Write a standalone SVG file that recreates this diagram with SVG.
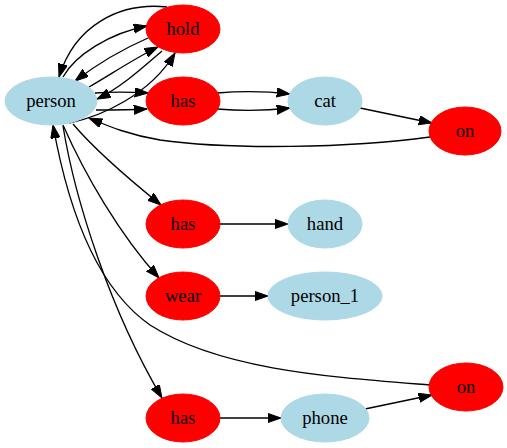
<svg xmlns="http://www.w3.org/2000/svg" width="507" height="448" viewBox="0 0 507 448">
  <style>
    .obj { fill: #add8e6; stroke: #add8e6; }
    .rel { fill: #ff0000; stroke: #ff0000; }
    .lbl { font-family: "Liberation Serif", "Times New Roman", serif; font-size: 18.67px; text-anchor: middle; fill: #000000; }
    .edge { fill: none; stroke: #000000; stroke-width: 1.33; marker-end: url(#head); }
  </style>
  <defs>
    <marker id="head" markerUnits="userSpaceOnUse" markerWidth="14" markerHeight="10" refX="13.3" refY="4.67" orient="auto">
      <path d="M0,0 L13.3,4.67 L0,9.33 Z" fill="#000000" stroke="#000000" stroke-width="1"/>
    </marker>
  </defs>
  <rect width="507" height="448" fill="#ffffff"/>

  <g id="edges">
    <!-- person <-> hold -->
    <path class="edge" d="M167,7 C120,2 75,25 59,77"/>
    <path class="edge" d="M63,77 C75,55 110,33 147,26"/>
    <path class="edge" d="M148,38 C125,48 100,62 75,81"/>
    <path class="edge" d="M89,87 C110,75 135,58 158,47"/>
    <path class="edge" d="M162,51 C140,70 120,88 97,99"/>
    <path class="edge" d="M69,123 C100,117 150,95 175,53"/>
    <!-- person -> has -->
    <path class="edge" d="M95,93 C110,92 130,92 148,93"/>
    <path class="edge" d="M96,110 C110,110 130,110 147,109"/>
    <!-- has -> cat -->
    <path class="edge" d="M217,93 C240,91 265,91 290,94"/>
    <path class="edge" d="M217,109 C240,111 265,111 290,108"/>
    <!-- cat -> on -->
    <path class="edge" d="M360,108 L432,123"/>
    <!-- on -> person -->
    <path class="edge" d="M430,137 C350,148 230,150 160,140 C130,135 110,127 89,118"/>
    <!-- person -> has / wear / has -->
    <path class="edge" d="M73,124 C95,150 130,180 161,205"/>
    <path class="edge" d="M63,125 C85,175 120,235 159,278"/>
    <path class="edge" d="M63,126 C75,200 110,310 162,398"/>
    <!-- on -> person (lower) -->
    <path class="edge" d="M430,385 C330,377 220,370 150,325 C100,290 70,220 53,125"/>
    <!-- relation -> object -->
    <path class="edge" d="M219,224 L288,224"/>
    <path class="edge" d="M219,296 L268,296"/>
    <path class="edge" d="M219,418 L281,418"/>
    <path class="edge" d="M365,409 L432,395"/>
  </g>

  <g id="person"><ellipse class="obj" cx="51" cy="101" rx="46" ry="24"/><text class="lbl" x="51" y="107">person</text></g>
  <g id="hold"><ellipse class="rel" cx="183" cy="29" rx="37" ry="24"/><text class="lbl" x="183" y="35">hold</text></g>
  <g id="has_cat"><ellipse class="rel" cx="183" cy="101" rx="37" ry="24"/><text class="lbl" x="183" y="107">has</text></g>
  <g id="cat"><ellipse class="obj" cx="325" cy="101" rx="37" ry="24"/><text class="lbl" x="325" y="107">cat</text></g>
  <g id="on_cat"><ellipse class="rel" cx="465" cy="131" rx="36" ry="24"/><text class="lbl" x="465" y="137">on</text></g>
  <g id="has_hand"><ellipse class="rel" cx="183" cy="224" rx="37" ry="24"/><text class="lbl" x="183" y="230">has</text></g>
  <g id="hand"><ellipse class="obj" cx="325" cy="224" rx="37" ry="24"/><text class="lbl" x="325" y="230">hand</text></g>
  <g id="wear"><ellipse class="rel" cx="183" cy="296" rx="37" ry="24"/><text class="lbl" x="183" y="302">wear</text></g>
  <g id="person_1"><ellipse class="obj" cx="325" cy="296" rx="57" ry="24"/><text class="lbl" x="325" y="302">person_1</text></g>
  <g id="on_phone"><ellipse class="rel" cx="466" cy="387" rx="37" ry="24"/><text class="lbl" x="466" y="393">on</text></g>
  <g id="has_phone"><ellipse class="rel" cx="183" cy="418" rx="37" ry="24"/><text class="lbl" x="183" y="424">has</text></g>
  <g id="phone"><ellipse class="obj" cx="325" cy="418" rx="44" ry="24"/><text class="lbl" x="325" y="424">phone</text></g>
</svg>
